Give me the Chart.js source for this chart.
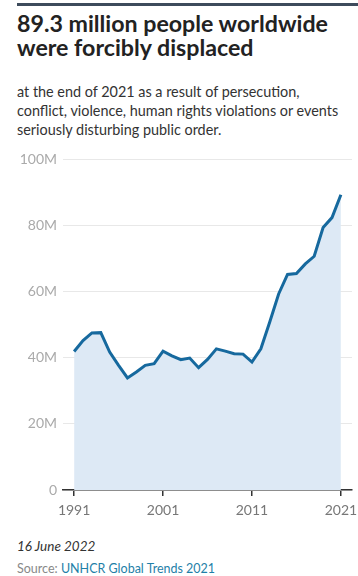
<!DOCTYPE html>
<html>
<head>
<meta charset="utf-8">
<script src="https://cdn.jsdelivr.net/npm/chart.js@4"></script>
<style>
  body { margin: 0; background: #fff; font-family: Lato, sans-serif; }
  #page { position: relative; width: 358px; height: 576px; overflow: hidden; }
  .rule { position: absolute; left: 17px; top: 3px; width: 341px; height: 3px; background: #3d4b5c; }
  .title { position: absolute; left: 17px; top: 11px; font-size: 23.2px; font-weight: 700; line-height: 24px; color: #222; }
  .sub { position: absolute; left: 17px; top: 82px; font-size: 14.4px; line-height: 19px; color: #333; }
  .chart { position: absolute; left: 0; top: 145px; width: 358px; height: 385px; }
  .date { position: absolute; left: 17px; top: 538px; font-size: 13.5px; font-style: italic; color: #333; }
  .src { position: absolute; left: 17px; top: 561px; font-size: 12.5px; color: #888; }
  .src span { color: #1f7fa8; }
</style>
</head>
<body>
<div id="page">
  <div class="rule"></div>
  <div class="title">89.3 million people worldwide<br>were forcibly displaced</div>
  <div class="sub">at the end of 2021 as a result of persecution,<br>conflict, violence, human rights violations or events<br>seriously disturbing public order.</div>
  <div class="chart"><canvas id="c" width="358" height="385"></canvas></div>
  <div class="date">16 June 2022</div>
  <div class="src">Source: <span>UNHCR Global Trends 2021</span></div>
</div>
<script>
// forcibly displaced people worldwide, millions, end of year
const years = [1991, 1992, 1993, 1994, 1995, 1996, 1997, 1998, 1999, 2000,
  2001, 2002, 2003, 2004, 2005, 2006, 2007, 2008, 2009, 2010,
  2011, 2012, 2013, 2014, 2015, 2016, 2017, 2018, 2019, 2020, 2021];
const displaced = [41.9, 45.2, 47.5, 47.6, 41.7, 37.7, 33.9, 35.7, 37.7, 38.2,
  42.0, 40.6, 39.4, 39.9, 37.0, 39.5, 42.7, 42.0, 41.2, 41.1,
  38.7, 42.7, 50.8, 59.3, 65.2, 65.5, 68.4, 70.7, 79.4, 82.4, 89.3];
const xTicks = [1991, 2001, 2011, 2021];
const yTicks = [0, 20, 40, 60, 80, 100];

const points = years.map((y, i) => ({ x: y, y: displaced[i] }));

new Chart(document.getElementById("c").getContext("2d"), {
  type: "line",
  data: {
    datasets: [
      {
        data: points,
        borderColor: "#16699e",
        backgroundColor: "#dde9f5",
        borderWidth: 3,
        pointRadius: 0,
        tension: 0,
        fill: "origin",
      },
    ],
  },
  options: {
    responsive: false,
    animation: false,
    layout: { padding: { top: 14, right: 6, left: 0, bottom: 0 } },
    plugins: { legend: { display: false }, tooltip: { enabled: false } },
    scales: {
      x: {
        type: "linear",
        min: 1989.75,
        max: 2022.25,
        afterBuildTicks: (s) => { s.ticks = xTicks.map((v) => ({ value: v })); },
        afterFit: (s) => {
          s.height = 40;
          // labels sit inside the range, no overhang padding needed
          s.paddingLeft = 0;
          s.paddingRight = 0;
        },
        ticks: {
          color: "#777",
          font: { family: "Lato", size: 14 },
          padding: 6,
          maxRotation: 0,
          callback: (v) => String(v),
        },
        grid: { drawOnChartArea: false, drawTicks: true, tickLength: 6, color: "#333", lineWidth: 1.5 },
        border: { color: "#333", width: 1.5 },
      },
      y: {
        min: 0,
        max: 100,
        afterBuildTicks: (s) => { s.ticks = yTicks.map((v) => ({ value: v })); },
        afterFit: (s) => { s.width = 63; },
        ticks: {
          color: "#aaa",
          font: { family: "Lato", size: 14 },
          padding: 6,
          callback: (v) => (v === 0 ? "0" : v + "M"),
        },
        grid: { color: "#e8e8e8", drawTicks: false },
        border: { display: false },
      },
    },
  },
});
</script>
</body>
</html>
